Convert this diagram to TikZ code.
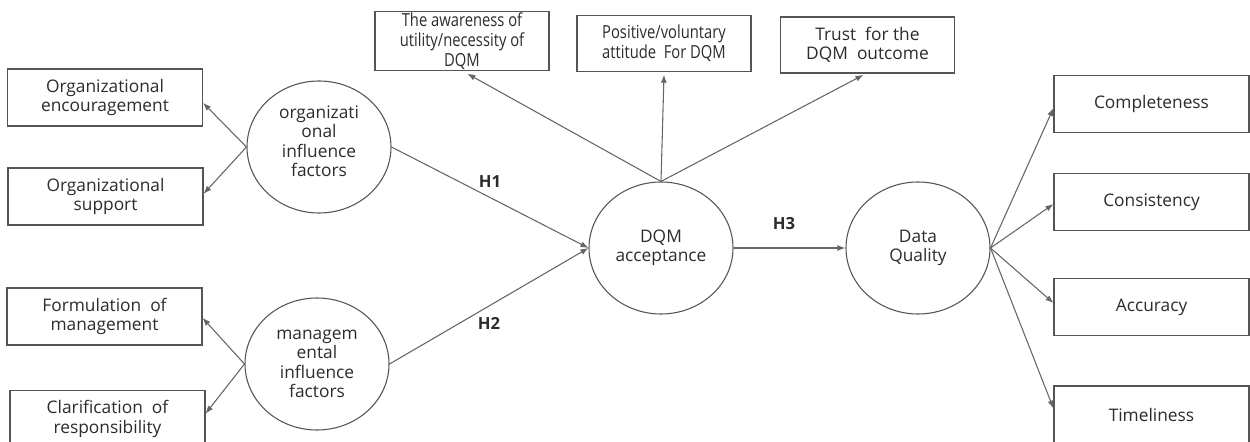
\documentclass[tikz,border=0pt]{standalone}
\usepackage{fontspec}
\setmainfont{Open Sans}
\newfontfamily\condfont[FakeStretch=0.82]{Open Sans}
\usetikzlibrary{shapes.geometric,arrows.meta}
\definecolor{linegray}{HTML}{666666}
\definecolor{boxgray}{HTML}{555555}
\definecolor{txtgray}{HTML}{2C2C2C}
\tikzset{
  sidebox/.style={draw=boxgray, line width=0.8pt, minimum width=146.25pt, minimum height=42.75pt, inner sep=1pt, align=center, text=txtgray, font=\fontsize{13}{14.6}\selectfont},
  topbox/.style={draw=boxgray, line width=0.8pt, minimum width=130.5pt, minimum height=42pt, inner sep=1pt, align=center, text=txtgray, font=\fontsize{13}{14.6}\selectfont},
  latent/.style={draw=boxgray, line width=0.8pt, ellipse, minimum width=108pt, minimum height=99pt, inner sep=0pt, align=center, text=txtgray, font=\fontsize{13}{14.6}\selectfont},
  arr/.style={draw=linegray, line width=0.8pt, -{Latex[length=6pt,width=4.5pt]}},
  hlabel/.style={text=txtgray, font=\fontsize{12.5}{14}\selectfont\bfseries}
}
\begin{document}
\begin{tikzpicture}[x=0.75pt,y=-0.75pt]
\clip (0,0) rectangle (1250,442);
\fill[white] (0,0) rectangle (1250,442);
% left boxes
\node[sidebox] (enc) at (105,97.5) {Organizational\\encouragement};
\node[sidebox] (sup) at (105.5,196.5) {Organizational\\support};
\node[sidebox] (form) at (104.5,316.5) {Formulation\ \ of\\management};
\node[sidebox] (clar) at (107.5,419) {Clarification\ \ of\\responsibility};
% latent circles
\node[latent] (org) at (319,147) {organizati\\onal\\influence\\factors\\[-6pt]\mbox{}};
\node[latent] (mgmt) at (317,364) {managem\\ental\\influence\\factors};
\node[latent] (dqm) at (661,248) {DQM\\acceptance};
\node[latent] (dq) at (918,248) {Data\\Quality};
% top boxes
\node[topbox, font=\fontsize{13.5}{14.8}\selectfont] (aware) at (462,41) {{\condfont The awareness of}\\{\condfont utility/necessity of}\\{\condfont DQM}};
\node[topbox, font=\fontsize{13.5}{14.8}\selectfont] (pos) at (664,43.5) {{\condfont Positive/voluntary}\\{\condfont attitude\ \ For DQM}};
\node[topbox] (trust) at (867.5,45) {Trust\ \ for the\\DQM\ \ outcome};
% right boxes
\node[sidebox] (comp) at (1151.5,104) {Completeness};
\node[sidebox] (cons) at (1151.5,202) {Consistency};
\node[sidebox] (acc) at (1151.5,307) {Accuracy};
\node[sidebox] (time) at (1151.5,414.5) {Timeliness};
% arrows left
\draw[arr] (org.west) -- ([yshift=-4pt]enc.east);
\draw[arr] (org.west) -- ([yshift=2pt]sup.east);
\draw[arr] (mgmt.west) -- ([yshift=-1pt]form.east);
\draw[arr] (mgmt.west) -- ([yshift=4pt]clar.east);
% H1, H2
\draw[arr] (org.east) -- (dqm.west) node[pos=0.5, above=4pt, hlabel] (h1) {H1};
\draw[arr] (mgmt.east) -- (dqm.west) node[pos=0.5, below=5pt, hlabel] (h2) {H2};
% top arrows
\draw[arr] (dqm.north) -- ([xshift=4pt,yshift=-2pt]aware.south);
\draw[arr] (dqm.north) -- ([yshift=-2pt]pos.south);
\draw[arr] (dqm.north) -- ([xshift=-3pt,yshift=-1pt]trust.south);
% H3
\draw[arr] (dqm.east) -- (dq.west) node[pos=0.45, above=10pt, hlabel] (h3) {H3};
% right arrows
\draw[arr] (dq.east) -- ([yshift=-3pt]comp.west);
\draw[arr] (dq.east) -- ([yshift=-1.5pt]cons.west);
\draw[arr] (dq.east) -- ([yshift=3pt]acc.west);
\draw[arr] (dq.east) -- ([yshift=4.5pt]time.west);
\end{tikzpicture}
\end{document}
